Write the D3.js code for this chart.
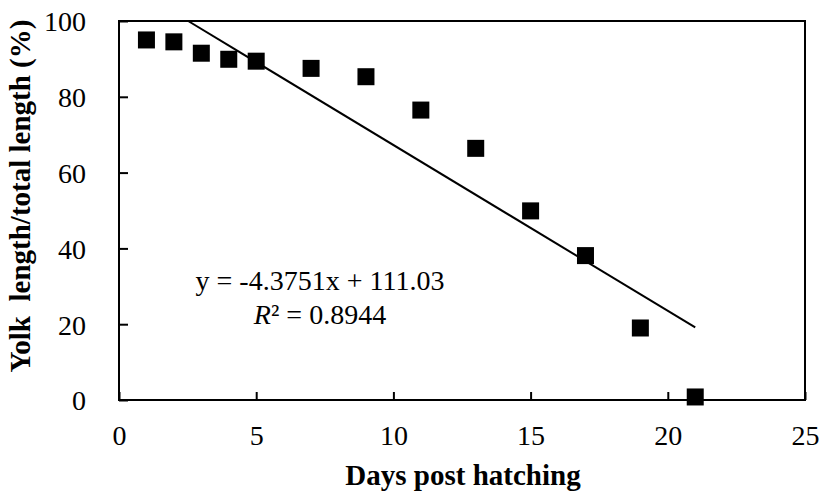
<!DOCTYPE html>
<html>
<head>
<meta charset="utf-8">
<script src="https://cdn.jsdelivr.net/npm/d3@7"></script>
<style>
  html, body { margin: 0; padding: 0; background: #fff; }
  svg { display: block; }
  text { font-family: "Liberation Serif", "Times New Roman", Times, serif; fill: #000; }
</style>
</head>
<body>
<svg id="chart" width="827" height="498"></svg>
<script>
// Data
const days = [1, 2, 3, 4, 5, 7, 9, 11, 13, 15, 17, 19, 21];
const yolkRatio = [95.0, 94.5, 91.5, 89.9, 89.4, 87.5, 85.3, 76.5, 66.4, 49.9, 38.1, 19.0, 0.8];
const xTicks = [0, 5, 10, 15, 20, 25];
const yTicks = [0, 20, 40, 60, 80, 100];
const slope = -4.3751;
const intercept = 111.03;
const trendX = [(100 - intercept) / slope, 21];
const equationText = "y = -4.3751x + 111.03";
const r2Value = "0.8944";
const xTitle = "Days post hatching";
const yTitle = "Yolk\u00A0\u00A0length/total length (%)";

const svg = d3.select("#chart");
const mLeft = 119, mRight = 805, mTop = 21, mBottom = 400;
const serif = "'Liberation Serif', 'Times New Roman', Times, serif";

const x = d3.scaleLinear().domain([0, 25]).range([mLeft, mRight]);
const y = d3.scaleLinear().domain([0, 100]).range([mBottom, mTop]);

// Frame
svg.append("rect")
  .attr("x", mLeft).attr("y", mTop)
  .attr("width", mRight - mLeft).attr("height", mBottom - mTop)
  .attr("fill", "none").attr("stroke", "#000").attr("stroke-width", 2);

// X axis
const xAxis = d3.axisBottom(x).tickValues(xTicks).tickSize(-8).tickPadding(0).tickFormat(d3.format("d"));
const gx = svg.append("g").attr("transform", `translate(0,${mBottom})`).call(xAxis);
gx.attr("font-family", null).attr("font-size", null);
gx.select(".domain").remove();
gx.selectAll(".tick line").attr("stroke", "#000").attr("stroke-width", 2);
gx.selectAll(".tick text")
  .attr("y", 45).attr("dy", null)
  .style("font-family", serif)
  .style("font-size", "28px").attr("fill", "#000");

// Y axis
const yAxis = d3.axisLeft(y).tickValues(yTicks).tickSize(-9).tickFormat(d3.format("d"));
const gy = svg.append("g").attr("transform", `translate(${mLeft},0)`).call(yAxis);
gy.attr("font-family", null).attr("font-size", null);
gy.select(".domain").remove();
gy.selectAll(".tick line").attr("stroke", "#000").attr("stroke-width", 2);
gy.selectAll(".tick text")
  .attr("x", -33).attr("dy", "0.35em")
  .style("font-family", serif)
  .style("font-size", "28px").attr("fill", "#000");

// Trend line
svg.append("line")
  .attr("x1", x(trendX[0])).attr("y1", y(slope * trendX[0] + intercept))
  .attr("x2", x(trendX[1])).attr("y2", y(slope * trendX[1] + intercept))
  .attr("stroke", "#000").attr("stroke-width", 2);

// Points
const size = 17;
svg.append("g").selectAll("rect")
  .data(days.map((d, i) => ({ d, v: yolkRatio[i] })))
  .join("rect")
  .attr("x", p => x(p.d) - size / 2)
  .attr("y", p => y(p.v) - size / 2)
  .attr("width", size).attr("height", size)
  .attr("fill", "#000");

// Equation
svg.append("text")
  .attr("x", 320).attr("y", 290)
  .attr("text-anchor", "middle")
  .style("font-family", serif)
  .style("font-size", "28px")
  .text(equationText);
const r2 = svg.append("text")
  .attr("x", 320).attr("y", 324)
  .attr("text-anchor", "middle")
  .style("font-family", serif)
  .style("font-size", "28px");
r2.append("tspan").attr("font-style", "italic").text("R");
r2.append("tspan").text("\u00B2 = " + r2Value);

// Axis titles
svg.append("text")
  .attr("x", 463).attr("y", 485)
  .attr("text-anchor", "middle")
  .style("font-family", serif)
  .style("font-size", "29px").style("font-weight", "bold")
  .text(xTitle);

svg.append("text")
  .attr("transform", "translate(30,196) rotate(-90)")
  .attr("text-anchor", "middle")
  .style("font-family", serif)
  .style("font-size", "29px").style("font-weight", "bold")
  .text(yTitle);
</script>
</body>
</html>
